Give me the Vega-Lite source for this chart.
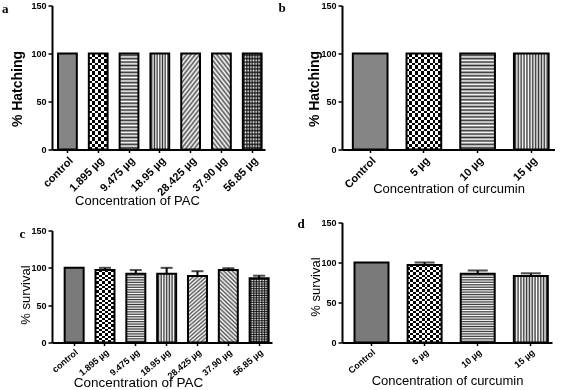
{
"$schema": "https://vega.github.io/schema/vega-lite/v6.json",
"background": "white",
"padding": {"left": 2, "top": 1.5, "right": 0, "bottom": 0},
"params": [
{"name": "sD", "expr": "[{offset:0,color:'#fff'},{offset:0.0227,color:'#555'},{offset:0.0455,color:'#fff'},{offset:0.0682,color:'#555'},{offset:0.0909,color:'#fff'},{offset:0.1136,color:'#555'},{offset:0.1364,color:'#fff'},{offset:0.1591,color:'#555'},{offset:0.1818,color:'#fff'},{offset:0.2045,color:'#555'},{offset:0.2273,color:'#fff'},{offset:0.25,color:'#555'},{offset:0.2727,color:'#fff'},{offset:0.2955,color:'#555'},{offset:0.3182,color:'#fff'},{offset:0.3409,color:'#555'},{offset:0.3636,color:'#fff'},{offset:0.3864,color:'#555'},{offset:0.4091,color:'#fff'},{offset:0.4318,color:'#555'},{offset:0.4545,color:'#fff'},{offset:0.4773,color:'#555'},{offset:0.5,color:'#fff'},{offset:0.5227,color:'#555'},{offset:0.5455,color:'#fff'},{offset:0.5682,color:'#555'},{offset:0.5909,color:'#fff'},{offset:0.6136,color:'#555'},{offset:0.6364,color:'#fff'},{offset:0.6591,color:'#555'},{offset:0.6818,color:'#fff'},{offset:0.7045,color:'#555'},{offset:0.7273,color:'#fff'},{offset:0.75,color:'#555'},{offset:0.7727,color:'#fff'},{offset:0.7955,color:'#555'},{offset:0.8182,color:'#fff'},{offset:0.8409,color:'#555'},{offset:0.8636,color:'#fff'},{offset:0.8864,color:'#555'},{offset:0.9091,color:'#fff'},{offset:0.9318,color:'#555'},{offset:0.9545,color:'#fff'},{offset:0.9773,color:'#555'},{offset:1,color:'#fff'}]"},
{"name": "gD1", "expr": "{gradient:'linear',x1:0,y1:0,x2:0.294,y2:1.176,stops:sD}"},
{"name": "gD2", "expr": "{gradient:'linear',x1:1,y1:0,x2:0.706,y2:1.176,stops:sD}"},
{"name": "gH", "expr": "{gradient:'linear',x1:0,y1:0,x2:0,y2:1,stops:[{offset:0,color:'#fff'},{offset:0.0179,color:'#333'},{offset:0.0357,color:'#fff'},{offset:0.0536,color:'#333'},{offset:0.0714,color:'#fff'},{offset:0.0893,color:'#333'},{offset:0.1071,color:'#fff'},{offset:0.125,color:'#333'},{offset:0.1429,color:'#fff'},{offset:0.1607,color:'#333'},{offset:0.1786,color:'#fff'},{offset:0.1964,color:'#333'},{offset:0.2143,color:'#fff'},{offset:0.2321,color:'#333'},{offset:0.25,color:'#fff'},{offset:0.2679,color:'#333'},{offset:0.2857,color:'#fff'},{offset:0.3036,color:'#333'},{offset:0.3214,color:'#fff'},{offset:0.3393,color:'#333'},{offset:0.3571,color:'#fff'},{offset:0.375,color:'#333'},{offset:0.3929,color:'#fff'},{offset:0.4107,color:'#333'},{offset:0.4286,color:'#fff'},{offset:0.4464,color:'#333'},{offset:0.4643,color:'#fff'},{offset:0.4821,color:'#333'},{offset:0.5,color:'#fff'},{offset:0.5179,color:'#333'},{offset:0.5357,color:'#fff'},{offset:0.5536,color:'#333'},{offset:0.5714,color:'#fff'},{offset:0.5893,color:'#333'},{offset:0.6071,color:'#fff'},{offset:0.625,color:'#333'},{offset:0.6429,color:'#fff'},{offset:0.6607,color:'#333'},{offset:0.6786,color:'#fff'},{offset:0.6964,color:'#333'},{offset:0.7143,color:'#fff'},{offset:0.7321,color:'#333'},{offset:0.75,color:'#fff'},{offset:0.7679,color:'#333'},{offset:0.7857,color:'#fff'},{offset:0.8036,color:'#333'},{offset:0.8214,color:'#fff'},{offset:0.8393,color:'#333'},{offset:0.8571,color:'#fff'},{offset:0.875,color:'#333'},{offset:0.8929,color:'#fff'},{offset:0.9107,color:'#333'},{offset:0.9286,color:'#fff'},{offset:0.9464,color:'#333'},{offset:0.9643,color:'#fff'},{offset:0.9821,color:'#333'},{offset:1,color:'#fff'}]}"},
{"name": "gG", "expr": "{gradient:'linear',x1:0,y1:0,x2:0,y2:1,stops:[{offset:0,color:'#0000'},{offset:0.0179,color:'#000c'},{offset:0.0357,color:'#0000'},{offset:0.0536,color:'#000c'},{offset:0.0714,color:'#0000'},{offset:0.0893,color:'#000c'},{offset:0.1071,color:'#0000'},{offset:0.125,color:'#000c'},{offset:0.1429,color:'#0000'},{offset:0.1607,color:'#000c'},{offset:0.1786,color:'#0000'},{offset:0.1964,color:'#000c'},{offset:0.2143,color:'#0000'},{offset:0.2321,color:'#000c'},{offset:0.25,color:'#0000'},{offset:0.2679,color:'#000c'},{offset:0.2857,color:'#0000'},{offset:0.3036,color:'#000c'},{offset:0.3214,color:'#0000'},{offset:0.3393,color:'#000c'},{offset:0.3571,color:'#0000'},{offset:0.375,color:'#000c'},{offset:0.3929,color:'#0000'},{offset:0.4107,color:'#000c'},{offset:0.4286,color:'#0000'},{offset:0.4464,color:'#000c'},{offset:0.4643,color:'#0000'},{offset:0.4821,color:'#000c'},{offset:0.5,color:'#0000'},{offset:0.5179,color:'#000c'},{offset:0.5357,color:'#0000'},{offset:0.5536,color:'#000c'},{offset:0.5714,color:'#0000'},{offset:0.5893,color:'#000c'},{offset:0.6071,color:'#0000'},{offset:0.625,color:'#000c'},{offset:0.6429,color:'#0000'},{offset:0.6607,color:'#000c'},{offset:0.6786,color:'#0000'},{offset:0.6964,color:'#000c'},{offset:0.7143,color:'#0000'},{offset:0.7321,color:'#000c'},{offset:0.75,color:'#0000'},{offset:0.7679,color:'#000c'},{offset:0.7857,color:'#0000'},{offset:0.8036,color:'#000c'},{offset:0.8214,color:'#0000'},{offset:0.8393,color:'#000c'},{offset:0.8571,color:'#0000'},{offset:0.875,color:'#000c'},{offset:0.8929,color:'#0000'},{offset:0.9107,color:'#000c'},{offset:0.9286,color:'#0000'},{offset:0.9464,color:'#000c'},{offset:0.9643,color:'#0000'},{offset:0.9821,color:'#000c'},{offset:1,color:'#0000'}]}"},
{"name": "gVn", "expr": "{gradient:'linear',x1:0,y1:0,x2:1,y2:0,stops:[{offset:0,color:'#fff'},{offset:0.0714,color:'#333'},{offset:0.1429,color:'#fff'},{offset:0.2143,color:'#333'},{offset:0.2857,color:'#fff'},{offset:0.3571,color:'#333'},{offset:0.4286,color:'#fff'},{offset:0.5,color:'#333'},{offset:0.5714,color:'#fff'},{offset:0.6429,color:'#333'},{offset:0.7143,color:'#fff'},{offset:0.7857,color:'#333'},{offset:0.8571,color:'#fff'},{offset:0.9286,color:'#333'},{offset:1,color:'#fff'}]}"},
{"name": "gVw", "expr": "{gradient:'linear',x1:0,y1:0,x2:1,y2:0,stops:[{offset:0,color:'#fff'},{offset:0.0417,color:'#333'},{offset:0.0833,color:'#fff'},{offset:0.125,color:'#333'},{offset:0.1667,color:'#fff'},{offset:0.2083,color:'#333'},{offset:0.25,color:'#fff'},{offset:0.2917,color:'#333'},{offset:0.3333,color:'#fff'},{offset:0.375,color:'#333'},{offset:0.4167,color:'#fff'},{offset:0.4583,color:'#333'},{offset:0.5,color:'#fff'},{offset:0.5417,color:'#333'},{offset:0.5833,color:'#fff'},{offset:0.625,color:'#333'},{offset:0.6667,color:'#fff'},{offset:0.7083,color:'#333'},{offset:0.75,color:'#fff'},{offset:0.7917,color:'#333'},{offset:0.8333,color:'#fff'},{offset:0.875,color:'#333'},{offset:0.9167,color:'#fff'},{offset:0.9583,color:'#333'},{offset:1,color:'#fff'}]}"},
{"name": "gCn", "expr": "{gradient:'linear',x1:0,y1:0,x2:1,y2:0,stops:[{offset:0,color:'#000'},{offset:0.1667,color:'#000'},{offset:0.1667,color:'#fff'},{offset:0.3333,color:'#fff'},{offset:0.3333,color:'#000'},{offset:0.5,color:'#000'},{offset:0.5,color:'#fff'},{offset:0.6667,color:'#fff'},{offset:0.6667,color:'#000'},{offset:0.8333,color:'#000'},{offset:0.8333,color:'#fff'},{offset:1,color:'#fff'}]}"},
{"name": "gCw", "expr": "{gradient:'linear',x1:0,y1:0,x2:1,y2:0,stops:[{offset:0,color:'#000'},{offset:0.0833,color:'#000'},{offset:0.0833,color:'#fff'},{offset:0.1667,color:'#fff'},{offset:0.1667,color:'#000'},{offset:0.25,color:'#000'},{offset:0.25,color:'#fff'},{offset:0.3333,color:'#fff'},{offset:0.3333,color:'#000'},{offset:0.4167,color:'#000'},{offset:0.4167,color:'#fff'},{offset:0.5,color:'#fff'},{offset:0.5,color:'#000'},{offset:0.5833,color:'#000'},{offset:0.5833,color:'#fff'},{offset:0.6667,color:'#fff'},{offset:0.6667,color:'#000'},{offset:0.75,color:'#000'},{offset:0.75,color:'#fff'},{offset:0.8333,color:'#fff'},{offset:0.8333,color:'#000'},{offset:0.9167,color:'#000'},{offset:0.9167,color:'#fff'},{offset:1,color:'#fff'}]}"},
{"name": "gCh", "expr": "{gradient:'linear',x1:0,y1:0,x2:0,y2:1,stops:[{offset:0,color:'#fff'},{offset:0.0313,color:'#fff'},{offset:0.0313,color:'#fff0'},{offset:0.0625,color:'#fff0'},{offset:0.0625,color:'#fff'},{offset:0.0938,color:'#fff'},{offset:0.0938,color:'#fff0'},{offset:0.125,color:'#fff0'},{offset:0.125,color:'#fff'},{offset:0.1563,color:'#fff'},{offset:0.1563,color:'#fff0'},{offset:0.1875,color:'#fff0'},{offset:0.1875,color:'#fff'},{offset:0.2188,color:'#fff'},{offset:0.2188,color:'#fff0'},{offset:0.25,color:'#fff0'},{offset:0.25,color:'#fff'},{offset:0.2813,color:'#fff'},{offset:0.2813,color:'#fff0'},{offset:0.3125,color:'#fff0'},{offset:0.3125,color:'#fff'},{offset:0.3438,color:'#fff'},{offset:0.3438,color:'#fff0'},{offset:0.375,color:'#fff0'},{offset:0.375,color:'#fff'},{offset:0.4063,color:'#fff'},{offset:0.4063,color:'#fff0'},{offset:0.4375,color:'#fff0'},{offset:0.4375,color:'#fff'},{offset:0.4688,color:'#fff'},{offset:0.4688,color:'#fff0'},{offset:0.5,color:'#fff0'},{offset:0.5,color:'#fff'},{offset:0.5313,color:'#fff'},{offset:0.5313,color:'#fff0'},{offset:0.5625,color:'#fff0'},{offset:0.5625,color:'#fff'},{offset:0.5938,color:'#fff'},{offset:0.5938,color:'#fff0'},{offset:0.625,color:'#fff0'},{offset:0.625,color:'#fff'},{offset:0.6563,color:'#fff'},{offset:0.6563,color:'#fff0'},{offset:0.6875,color:'#fff0'},{offset:0.6875,color:'#fff'},{offset:0.7188,color:'#fff'},{offset:0.7188,color:'#fff0'},{offset:0.75,color:'#fff0'},{offset:0.75,color:'#fff'},{offset:0.7813,color:'#fff'},{offset:0.7813,color:'#fff0'},{offset:0.8125,color:'#fff0'},{offset:0.8125,color:'#fff'},{offset:0.8438,color:'#fff'},{offset:0.8438,color:'#fff0'},{offset:0.875,color:'#fff0'},{offset:0.875,color:'#fff'},{offset:0.9063,color:'#fff'},{offset:0.9063,color:'#fff0'},{offset:0.9375,color:'#fff0'},{offset:0.9375,color:'#fff'},{offset:0.9688,color:'#fff'},{offset:0.9688,color:'#fff0'},{offset:1,color:'#fff0'}]}"}
],
"config": {
  "view": {"stroke": null},
  "axis": {"domainColor": "#000", "domainWidth": 2, "tickColor": "#000", "tickWidth": 1.5, "labelColor": "#000", "titleColor": "#000", "grid": false, "labelFont": "Liberation Sans", "titleFont": "Liberation Sans", "titleFontWeight": "normal", "labelFontWeight": "bold"},
  "axisX": {"tickSize": 3, "titleFontSize": 13, "titleBaseline": "middle"},
  "axisY": {"labelFontSize": 9, "tickSize": 4, "titleFontSize": 13, "labelPadding": 2},
  "title": {"orient": "left", "anchor": "end", "frame": "group", "angle": 0, "align": "right", "baseline": "alphabetic", "font": "Liberation Serif", "fontSize": 13, "fontWeight": "bold", "color": "#000"}
},
"spacing": 6,
"hconcat": [
{"bounds": "flush", "spacing": 81, "vconcat": [
{
  "width": 213, "height": 144,
  "title": {"text": "a", "offset": -5, "dy": -3},
  "data": {"values": [
    {"dose": "control", "pct": 100},
    {"dose": "1.895 µg", "pct": 100},
    {"dose": "9.475 µg", "pct": 100},
    {"dose": "18.95 µg", "pct": 100},
    {"dose": "28.425 µg", "pct": 100},
    {"dose": "37.90 µg", "pct": 100},
    {"dose": "56.85 µg", "pct": 100}
  ]},
  "encoding": {
    "x": {"field": "dose", "type": "nominal", "sort": null, "scale": {"paddingInner": 0.39, "paddingOuter": 0.153, "align": 0.64}, "axis": {"title": "Concentration of PAC", "titleX": 85, "titleY": 51, "labelAngle": -45, "labelFontSize": 11}},
    "y": {"field": "pct", "type": "quantitative", "scale": {"domain": [0, 150], "nice": false}, "axis": {"title": "% Hatching", "values": [0, 50, 100, 150], "titleFontWeight": "bold", "titleFontSize": 14, "titleX": -28, "titleY": 83}}
  },
  "layer": [
    {"mark": {"type": "bar"}, "encoding": {"fill": {"condition": [
      {"test": "datum.dose === '1.895 µg'", "value": {"expr": "gCn"}},
      {"test": "datum.dose === '9.475 µg'", "value": {"expr": "gH"}},
      {"test": "datum.dose === '18.95 µg' || datum.dose === '56.85 µg'", "value": {"expr": "gVn"}},
      {"test": "datum.dose === '28.425 µg'", "value": {"expr": "gD1"}},
      {"test": "datum.dose === '37.90 µg'", "value": {"expr": "gD2"}}
    ], "value": "#858585"}}},
    {"transform": [{"filter": "datum.dose === '1.895 µg'"}], "mark": {"type": "bar", "fill": {"expr": "gCh"}, "blend": "difference"}},
    {"transform": [{"filter": "datum.dose === '56.85 µg'"}], "mark": {"type": "bar", "fill": {"expr": "gG"}}},
    {"mark": {"type": "bar", "filled": false, "stroke": "#000", "strokeWidth": 2}}
  ]
},
{
  "width": 220, "height": 112,
  "title": {"text": "c", "offset": -12, "dy": -3},
  "data": {"values": [
    {"dose": "control", "pct": 100, "hi": null},
    {"dose": "1.895 µg", "pct": 97, "hi": 100},
    {"dose": "9.475 µg", "pct": 92, "hi": 97},
    {"dose": "18.95 µg", "pct": 92, "hi": 100},
    {"dose": "28.425 µg", "pct": 89, "hi": 95.5},
    {"dose": "37.90 µg", "pct": 97, "hi": 99.5},
    {"dose": "56.85 µg", "pct": 86, "hi": 89.5}
  ]},
  "encoding": {
    "x": {"field": "dose", "type": "nominal", "sort": null, "scale": {"paddingInner": 0.384, "paddingOuter": 0.26, "align": 0.79}, "axis": {"title": "Concentration of PAC", "titleX": 86, "titleY": 40, "labelAngle": -40, "labelFontSize": 9, "titleFontSize": 13.5}},
    "y": {"field": "pct", "type": "quantitative", "scale": {"domain": [0, 150], "nice": false}, "axis": {"title": "% survival", "values": [0, 50, 100, 150], "titleX": -20, "titleY": 64}}
  },
  "layer": [
    {"mark": {"type": "bar"}, "encoding": {"fill": {"condition": [
      {"test": "datum.dose === '1.895 µg'", "value": {"expr": "gCn"}},
      {"test": "datum.dose === '9.475 µg'", "value": {"expr": "gH"}},
      {"test": "datum.dose === '18.95 µg' || datum.dose === '56.85 µg'", "value": {"expr": "gVn"}},
      {"test": "datum.dose === '28.425 µg'", "value": {"expr": "gD1"}},
      {"test": "datum.dose === '37.90 µg'", "value": {"expr": "gD2"}}
    ], "value": "#7a7a7a"}}},
    {"transform": [{"filter": "datum.dose === '1.895 µg'"}], "mark": {"type": "bar", "fill": {"expr": "gCh"}, "blend": "difference"}},
    {"transform": [{"filter": "datum.dose === '56.85 µg'"}], "mark": {"type": "bar", "fill": {"expr": "gG"}}},
    {"mark": {"type": "bar", "filled": false, "stroke": "#000", "strokeWidth": 2}},
    {"transform": [{"filter": "datum.hi != null"}], "mark": {"type": "rule", "color": "#000", "strokeWidth": 2}, "encoding": {"y2": {"field": "hi"}}},
    {"transform": [{"filter": "datum.hi != null"}], "mark": {"type": "tick", "color": "#000", "thickness": 2, "size": 12}, "encoding": {"y": {"field": "hi", "type": "quantitative", "scale": {"domain": [0, 150], "nice": false}}}}
  ]
}
]},
{"bounds": "flush", "spacing": 73, "vconcat": [
{
  "width": 213, "height": 144,
  "title": {"text": "b", "offset": 14, "dy": -3.3},
  "data": {"values": [
    {"dose": "Control", "pct": 100},
    {"dose": "5 µg", "pct": 100},
    {"dose": "10 µg", "pct": 100},
    {"dose": "15 µg", "pct": 100}
  ]},
  "encoding": {
    "x": {"field": "dose", "type": "nominal", "sort": null, "scale": {"paddingInner": 0.354, "paddingOuter": 0.16, "align": 0.63}, "axis": {"title": "Concentration of curcumin", "titleY": 39, "labelAngle": -45, "labelFontSize": 11}},
    "y": {"field": "pct", "type": "quantitative", "scale": {"domain": [0, 150], "nice": false}, "axis": {"title": "% Hatching", "values": [0, 50, 100, 150], "titleFontWeight": "bold", "titleFontSize": 14, "titleX": -21, "titleY": 83}}
  },
  "layer": [
    {"mark": {"type": "bar"}, "encoding": {"fill": {"condition": [
      {"test": "datum.dose === '5 µg'", "value": {"expr": "gCw"}},
      {"test": "datum.dose === '10 µg'", "value": {"expr": "gH"}},
      {"test": "datum.dose === '15 µg'", "value": {"expr": "gVw"}}
    ], "value": "#858585"}}},
    {"transform": [{"filter": "datum.dose === '5 µg'"}], "mark": {"type": "bar", "fill": {"expr": "gCh"}, "blend": "difference"}},
    {"mark": {"type": "bar", "filled": false, "stroke": "#000", "strokeWidth": 2}}
  ]
},
{
  "width": 210, "height": 120,
  "title": {"text": "d", "offset": -3, "dy": -5},
  "data": {"values": [
    {"dose": "Control", "pct": 100, "hi": null},
    {"dose": "5 µg", "pct": 97, "hi": 100},
    {"dose": "10 µg", "pct": 86, "hi": 90},
    {"dose": "15 µg", "pct": 83, "hi": 86.5}
  ]},
  "encoding": {
    "x": {"field": "dose", "type": "nominal", "sort": null, "scale": {"paddingInner": 0.36, "paddingOuter": 0.157, "align": 0.75}, "axis": {"title": "Concentration of curcumin", "titleY": 38, "labelAngle": -40, "labelFontSize": 9}},
    "y": {"field": "pct", "type": "quantitative", "scale": {"domain": [0, 150], "nice": false}, "axis": {"title": "% survival", "values": [0, 50, 100, 150], "titleX": -20, "titleY": 64}}
  },
  "layer": [
    {"mark": {"type": "bar"}, "encoding": {"fill": {"condition": [
      {"test": "datum.dose === '5 µg'", "value": {"expr": "gCw"}},
      {"test": "datum.dose === '10 µg'", "value": {"expr": "gH"}},
      {"test": "datum.dose === '15 µg'", "value": {"expr": "gVw"}}
    ], "value": "#7a7a7a"}}},
    {"transform": [{"filter": "datum.dose === '5 µg'"}], "mark": {"type": "bar", "fill": {"expr": "gCh"}, "blend": "difference"}},
    {"mark": {"type": "bar", "filled": false, "stroke": "#000", "strokeWidth": 2}},
    {"transform": [{"filter": "datum.hi != null"}], "mark": {"type": "rule", "color": "#000", "strokeWidth": 2}, "encoding": {"y2": {"field": "hi"}}},
    {"transform": [{"filter": "datum.hi != null"}], "mark": {"type": "tick", "color": "#000", "thickness": 2, "size": 20}, "encoding": {"y": {"field": "hi", "type": "quantitative", "scale": {"domain": [0, 150], "nice": false}}}}
  ]
}
]}
]
}
